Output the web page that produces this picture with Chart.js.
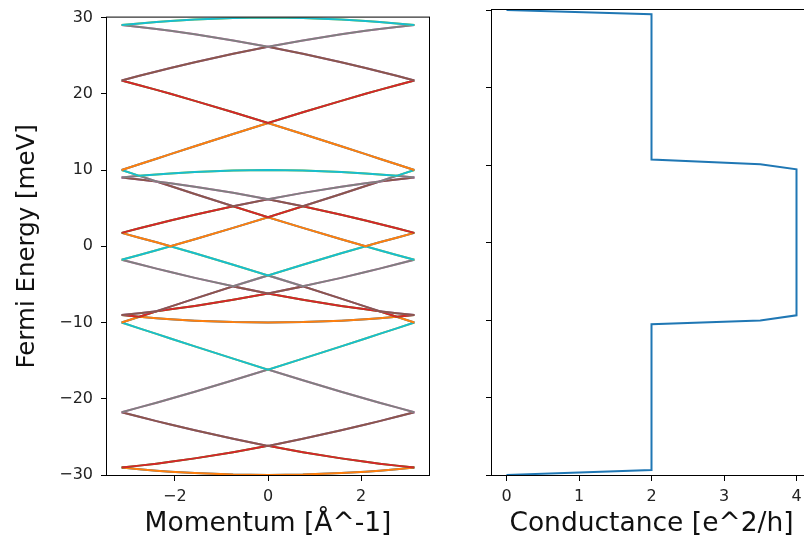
<!DOCTYPE html>
<html>
<head>
<meta charset="utf-8">
<script src="https://cdn.jsdelivr.net/npm/chart.js@4.4.1/dist/chart.umd.min.js"></script>
<style>
html, body { margin: 0; padding: 0; background: #fff; overflow: hidden; width: 804px; height: 541px; }
#bands { position: absolute; left: 0; top: 0; }
#cond { position: absolute; left: 480px; top: 0; }
</style>
</head>
<body>
<canvas id="bands" width="440" height="541"></canvas>
<canvas id="cond" width="340" height="541"></canvas>
<script>
// momentum samples (Å^-1) where the band energies were read
const momentum = [-3.1416, -2.762, -2.394, -2.094, -1.571, -0.748, 0, 0.748, 1.571, 2.094, 2.394, 2.762, 3.1416];

// energy of each band (meV), lowest to highest, one value per momentum sample
const band00 = [-29.02, -29.24, -29.43, -29.56, -29.75, -29.94, -30, -29.94, -29.75, -29.56, -29.43, -29.24, -29.02];
const band01 = [-29.02, -28.77, -28.51, -28.27, -27.82, -27.01, -26.18, -27.01, -27.82, -28.27, -28.51, -28.77, -29.02];
const band02 = [-21.76, -22.36, -22.93, -23.38, -24.14, -25.25, -26.18, -25.25, -24.14, -23.38, -22.93, -22.36, -21.76];
const band03 = [-21.76, -21.13, -20.52, -20, -19.08, -17.58, -16.18, -17.58, -19.08, -20, -20.52, -21.13, -21.76];
const band04 = [-10, -10.76, -11.49, -12.09, -13.13, -14.74, -16.18, -14.74, -13.13, -12.09, -11.49, -10.76, -10];
const band05 = [-10, -9.24, -9.43, -9.56, -9.75, -9.94, -10, -9.94, -9.75, -9.56, -9.43, -9.24, -10];
const band06 = [-9.02, -9.24, -8.51, -8.27, -7.82, -7.01, -6.18, -7.01, -7.82, -8.27, -8.51, -9.24, -9.02];
const band07 = [-9.02, -8.77, -8.51, -7.91, -6.87, -5.26, -6.18, -5.26, -6.87, -7.91, -8.51, -8.77, -9.02];
const band08 = [-1.76, -2.36, -2.93, -3.38, -4.14, -5.25, -3.82, -5.25, -4.14, -3.38, -2.93, -2.36, -1.76];
const band09 = [-1.76, -1.13, -0.52, 0, -0.92, -2.42, -3.82, -2.42, -0.92, 0, -0.52, -1.13, -1.76];
const band10 = [1.76, 1.13, 0.52, 0, 0.92, 2.42, 3.82, 2.42, 0.92, 0, 0.52, 1.13, 1.76];
const band11 = [1.76, 2.36, 2.93, 3.38, 4.14, 5.25, 3.82, 5.25, 4.14, 3.38, 2.93, 2.36, 1.76];
const band12 = [9.02, 8.77, 8.51, 7.91, 6.87, 5.26, 6.18, 5.26, 6.87, 7.91, 8.51, 8.77, 9.02];
const band13 = [9.02, 9.24, 8.51, 8.27, 7.82, 7.01, 6.18, 7.01, 7.82, 8.27, 8.51, 9.24, 9.02];
const band14 = [10, 9.24, 9.43, 9.56, 9.75, 9.94, 10, 9.94, 9.75, 9.56, 9.43, 9.24, 10];
const band15 = [10, 10.76, 11.49, 12.09, 13.13, 14.74, 16.18, 14.74, 13.13, 12.09, 11.49, 10.76, 10];
const band16 = [21.76, 21.13, 20.52, 20, 19.08, 17.58, 16.18, 17.58, 19.08, 20, 20.52, 21.13, 21.76];
const band17 = [21.76, 22.36, 22.93, 23.38, 24.14, 25.25, 26.18, 25.25, 24.14, 23.38, 22.93, 22.36, 21.76];
const band18 = [29.02, 28.77, 28.51, 28.27, 27.82, 27.01, 26.18, 27.01, 27.82, 28.27, 28.51, 28.77, 29.02];
const band19 = [29.02, 29.24, 29.43, 29.56, 29.75, 29.94, 30, 29.94, 29.75, 29.56, 29.43, 29.24, 29.02];

// conductance step (e^2/h) against Fermi energy (meV)
const fermiEnergy = [-30, -29.35, -10.55, -10.05, -9.4, 9.45, 10.1, 10.7, 29.45, 30];
const conductance = [0, 2, 2, 3.5, 4, 4, 3.5, 2, 2, 0];

// tick labels
const energyTicks = [-30, -20, -10, 0, 10, 20, 30];
const momentumTicks = [-2, 0, 2];
const conductanceTicks = [0, 1, 2, 3, 4];

const bands = [band00, band01, band02, band03, band04, band05, band06, band07, band08, band09,
               band10, band11, band12, band13, band14, band15, band16, band17, band18, band19];

// each band is spin degenerate: the colour underneath only shows at the edges
const colorsUnder = ['#1f77b4', '#2ca02c', '#9467bd', '#e377c2', '#bcbd22'];
const colorsOver = ['#ff7f0e', '#d62728', '#8c564b', '#7f7f7f', '#17becf'];

const FONT = "'DejaVu Sans', sans-serif";
const minus = v => String(v).replace('-', '\u2212');

const framePlugin = {
    id: 'frame',
    afterDatasetsDraw(chart) {
        const a = chart.chartArea;
        const c = chart.ctx;
        c.save();
        c.strokeStyle = '#000';
        c.lineWidth = 1;
        c.strokeRect(a.left - 0.5, a.top - 0.5, a.right - a.left + 1, a.bottom - a.top + 1);
        c.restore();
    }
};

function points(xs, ys) {
    return xs.map((x, i) => ({ x: x, y: ys[i] }));
}

function tickGrid() {
    return { display: true, drawOnChartArea: false, drawTicks: true, tickLength: 6, color: '#000', lineWidth: 1 };
}

const bandSets = [];
bands.forEach((b, j) => {
    [colorsUnder[j % 5], colorsOver[j % 5]].forEach((col, s) => {
        const n = j * 2 + s;
        bandSets.push({
            data: points(momentum, b),
            borderColor: col,
            borderWidth: 2,
            pointRadius: 0,
            showLine: true,
            tension: 0,
            clip: 0,
            order: 100 - n
        });
    });
});

new Chart(document.getElementById('bands'), {
    type: 'scatter',
    data: { datasets: bandSets },
    options: {
        responsive: false,
        devicePixelRatio: 1,
        animation: false,
        events: [],
        layout: { padding: { left: 0, top: 10, right: 11, bottom: 0 } },
        plugins: { legend: { display: false }, tooltip: { enabled: false } },
        scales: {
            x: {
                type: 'linear', min: -3.456, max: 3.456,
                afterBuildTicks: s => { s.ticks = momentumTicks.map(v => ({ value: v })); },
                afterFit: s => { s.height = 66; },
                grid: tickGrid(),
                border: { display: false },
                ticks: { font: { family: FONT, size: 16 }, color: '#222', padding: 6, maxRotation: 0, callback: v => minus(v) },
                title: { display: true, text: 'Momentum [Å^-1]', color: '#111', font: { family: FONT, size: 26.5 }, padding: { top: 0, bottom: 1 } }
            },
            y: {
                type: 'linear', min: -30, max: 30,
                afterBuildTicks: s => { s.ticks = energyTicks.map(v => ({ value: v })); },
                afterFit: s => { s.width = 107; },
                grid: tickGrid(),
                border: { display: false },
                ticks: { font: { family: FONT, size: 16 }, color: '#222', padding: 8, callback: v => minus(v) },
                title: { display: true, text: 'Fermi Energy [meV]', color: '#111', font: { family: FONT, size: 24.5 }, padding: { top: 13, bottom: 0 } }
            }
        }
    },
    plugins: [framePlugin]
});

new Chart(document.getElementById('cond'), {
    type: 'scatter',
    data: {
        datasets: [{
            data: points(conductance, fermiEnergy),
            borderColor: '#1f77b4',
            borderWidth: 2,
            pointRadius: 0,
            showLine: true,
            tension: 0,
            clip: 0
        }]
    },
    options: {
        responsive: false,
        devicePixelRatio: 1,
        animation: false,
        events: [],
        layout: { padding: { left: 0, top: 10, right: 9, bottom: 0 } },
        plugins: { legend: { display: false }, tooltip: { enabled: false } },
        scales: {
            x: {
                type: 'linear', min: -0.2, max: 4.2,
                afterBuildTicks: s => { s.ticks = conductanceTicks.map(v => ({ value: v })); },
                afterFit: s => { s.height = 66; },
                grid: tickGrid(),
                border: { display: false },
                ticks: { font: { family: FONT, size: 16 }, color: '#222', padding: 6, maxRotation: 0 },
                title: { display: true, text: 'Conductance [e^2/h]', color: '#111', font: { family: FONT, size: 26.5 }, padding: { top: 0, bottom: 1 } }
            },
            y: {
                type: 'linear', min: -30, max: 30,
                afterBuildTicks: s => { s.ticks = energyTicks.map(v => ({ value: v })); },
                afterFit: s => { s.width = 12; },
                grid: tickGrid(),
                border: { display: false },
                ticks: { display: false }
            }
        }
    },
    plugins: [framePlugin]
});
</script>
</body>
</html>
